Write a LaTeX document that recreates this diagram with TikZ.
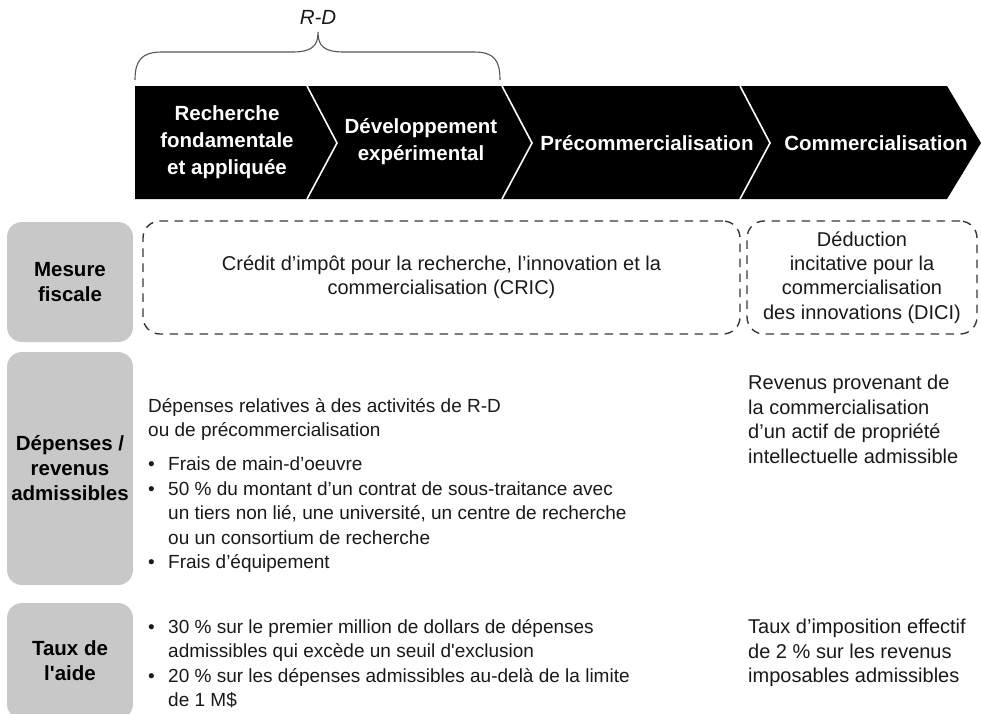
\documentclass[tikz,border=0pt]{standalone}
\usepackage{fontspec}
\setmainfont{Liberation Sans}
\usepackage{xcolor}
\definecolor{headgray}{RGB}{200,200,200}
\definecolor{dashgray}{RGB}{55,55,55}
\definecolor{braceline}{RGB}{85,85,85}
\definecolor{bodytext}{RGB}{25,25,25}
\newcommand{\puce}{\makebox[20pt][l]{\textbullet}}
\newcommand{\suite}{\hspace*{20pt}}

\begin{document}
\begin{tikzpicture}[x=1pt,y=-1pt]
	\tikzset{stage/.style={text=white,font=\bfseries\fontsize{20.5}{27}\selectfont,align=center}}
	\tikzset{divider/.style={draw=white,line width=1.6pt}}
	\tikzset{rowhead/.style={fill=headgray,rounded corners=15pt,minimum width=126pt,inner sep=0pt,
		text=black,font=\bfseries\fontsize{20.5}{25}\selectfont,align=center}}
	\tikzset{measure/.style={draw=dashgray,dash pattern=on 8.5pt off 6.5pt,line width=1.4pt,rounded corners=17pt,
		minimum height=113pt,inner sep=0pt,text=bodytext,font=\fontsize{20}{24.3}\selectfont,align=center}}
	\tikzset{body/.style={inner sep=0pt,text=bodytext,font=\fontsize{20}{24.5}\selectfont,align=left,anchor=north west}}
	\tikzset{leftbody/.style={body,font=\fontsize{19}{24.5}\selectfont}}
	\useasboundingbox (0,0) rectangle (981,713);

	% brace over the two R-D stages
	\node[font=\itshape\fontsize{20.5}{24}\selectfont,text=bodytext] (rd) at (318,17) {R-D};
	\draw[braceline,line width=1.1pt] (135,80) .. controls (135,60) and (142,52) .. (162,52) -- (292,52)
		.. controls (312,52) and (318,46) .. (318,32) .. controls (318,46) and (324,52) .. (344,52)
		-- (474,52) .. controls (494,52) and (500,60) .. (500,80);

	% black stage band
	\fill[black] (135,86) -- (947,86) -- (981,143) -- (947,199) -- (135,199) -- cycle;
	\foreach \a in {307,502,740}
		\draw[divider] (\a,86) -- (\a+30,143) -- (\a,199);
	\node[stage] (basic) at (227,142) {Recherche\\fondamentale\\et appliquée};
	\node[stage] (devel) at (421,142) {Développement\\expérimental};
	\node[stage] (precom) at (647,143) {Précommercialisation};
	\node[stage] (comm) at (876,143) {Commercialisation};

	% row headings
	\node[rowhead,minimum height=120pt] (mesure) at (70,282) {Mesure\\fiscale};
	\node[rowhead,minimum height=233pt] (depenses) at (70,468.5) {Dépenses /\\revenus\\admissibles};
	\node[rowhead,minimum height=116pt] (taux) at (70,661) {Taux de\\l\textquotesingle aide};

	% tax measures
	\node[measure,minimum width=597pt] (cric) at (441.5,277.5)
		{\rule{0pt}{6pt}Crédit d’impôt pour la recherche, l’innovation et la\\commercialisation (CRIC)};
	\node[measure,minimum width=230pt] (dici) at (862,277.5)
		{Déduction\\incitative pour la\\commercialisation\\des innovations (DICI)};

	% eligible expenses and income
	\node[leftbody] (depintro) at (148,398) {Dépenses relatives à des activités de R-D\\ou de précommercialisation};
	\node[leftbody] (deplist) at (148,457) {\puce Frais de main-d’oeuvre\\
		\puce 50 \% du montant d’un contrat de sous-traitance avec\\
		\suite un tiers non lié, une université, un centre de recherche\\
		\suite ou un consortium de recherche\\
		\puce Frais d’équipement};
	\node[body] (revenus) at (748,375) {Revenus provenant de\\la commercialisation\\d’un actif de propriété\\intellectuelle admissible};

	% rates
	\node[leftbody] (tauxcric) at (148,619) {\puce 30 \% sur le premier million de dollars de dépenses\\
		\suite admissibles qui excède un seuil d\textquotesingle exclusion\\
		\puce 20 \% sur les dépenses admissibles au-delà de la limite\\
		\suite de 1 M\$};
	\node[body] (tauxdici) at (748,619) {Taux d’imposition effectif\\de 2 \% sur les revenus\\imposables admissibles};
\end{tikzpicture}
\end{document}
